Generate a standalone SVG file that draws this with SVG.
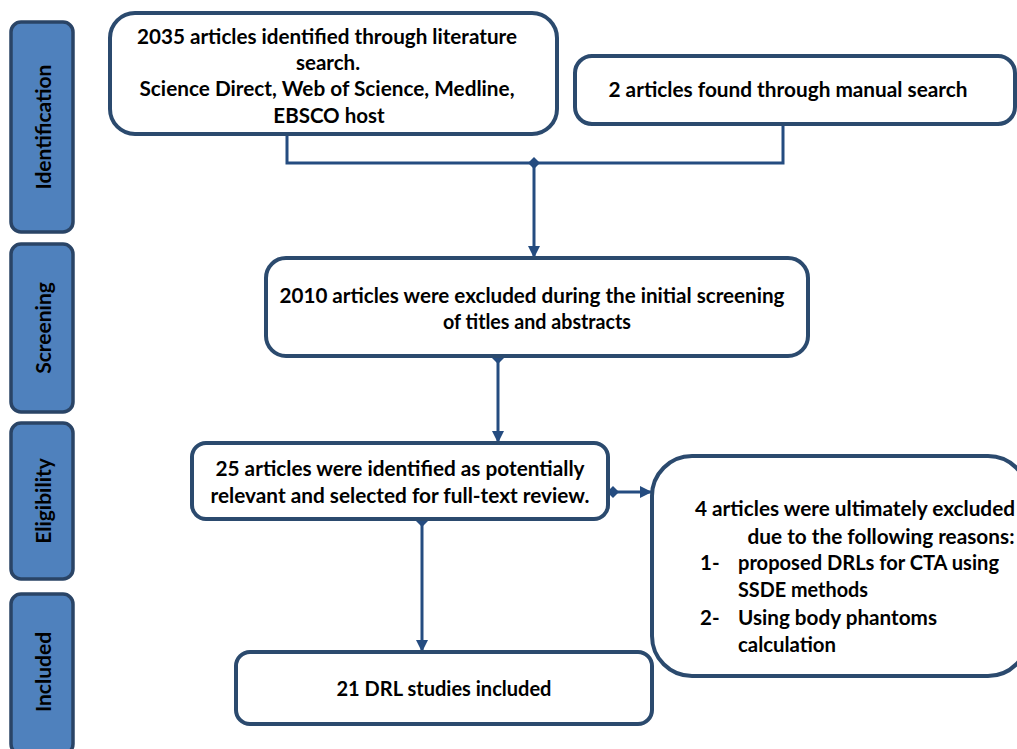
<svg xmlns="http://www.w3.org/2000/svg" width="1017" height="749" viewBox="0 0 1017 749">
<style>
.side{fill:#4F81BD;stroke:#2A4466;stroke-width:3.5}
.box{fill:#fff;stroke:#2B4A6E;stroke-width:4}
.t{font-family:Lato,"Liberation Sans",sans-serif;font-weight:bold;font-size:20.5px;fill:#000}
.c{text-anchor:middle}
.sl{font-family:Lato,"Liberation Sans",sans-serif;font-weight:bold;font-size:21px;fill:#000;text-anchor:middle}
.con{fill:none;stroke:#254C80;stroke-width:3}
</style>
<defs>
<marker id="arr" viewBox="0 0 12 12" refX="11" refY="6" markerWidth="12" markerHeight="12" markerUnits="userSpaceOnUse" orient="auto">
<path d="M0,0 L12,6 L0,12 z" fill="#254C80"/>
</marker>
<marker id="dia" viewBox="0 0 10 10" refX="5" refY="5" markerWidth="12" markerHeight="12" markerUnits="userSpaceOnUse" orient="auto">
<path d="M0,5 L5,0 L10,5 L5,10 z" fill="#254C80"/>
</marker>
</defs>
<g id="side-identification"><rect class="side" x="11" y="22" width="62" height="210" rx="10"/><text class="sl" transform="translate(51,127) rotate(-90)">Identification</text></g>
<g id="side-screening"><rect class="side" x="11" y="244" width="62" height="168" rx="10"/><text class="sl" transform="translate(51,328) rotate(-90)">Screening</text></g>
<g id="side-eligibility"><rect class="side" x="11" y="423" width="62" height="156" rx="10"/><text class="sl" transform="translate(51,501) rotate(-90)">Eligibility</text></g>
<g id="side-included"><rect class="side" x="11" y="594" width="62" height="160" rx="10"/><text class="sl" transform="translate(51,672) rotate(-90)">Included</text></g>

<g id="connectors">
<path class="con" d="M287,134 V163 H783 V126"/>
<path class="con" d="M534,163 V257" marker-start="url(#dia)" marker-end="url(#arr)"/>
<path class="con" d="M498,358 V442" marker-start="url(#dia)" marker-end="url(#arr)"/>
<path class="con" d="M613,492 H651" marker-start="url(#dia)" marker-end="url(#arr)"/>
<path class="con" d="M422,521 V651" marker-start="url(#dia)" marker-end="url(#arr)"/>
</g>

<g id="n1"><rect class="box" x="110" y="13" width="447" height="121" rx="25"/>
<text class="t c" x="327" y="44" textLength="380" lengthAdjust="spacingAndGlyphs">2035 articles identified through literature</text>
<text class="t c" x="328" y="70">search.</text>
<text class="t c" x="327" y="96" textLength="375" lengthAdjust="spacingAndGlyphs">Science Direct, Web of Science, Medline,</text>
<text class="t c" x="329" y="123">EBSCO host</text></g>
<g id="n2"><rect class="box" x="575" y="56" width="440" height="68" rx="17"/>
<text class="t c" x="788" y="97" textLength="359" lengthAdjust="spacingAndGlyphs">2 articles found through manual search</text></g>
<g id="n3"><rect class="box" x="266" y="258" width="542" height="98" rx="20"/>
<text class="t c" x="532" y="303" textLength="505" lengthAdjust="spacingAndGlyphs">2010 articles were excluded during the initial screening</text>
<text class="t c" x="537" y="329" textLength="188" lengthAdjust="spacingAndGlyphs">of titles and abstracts</text></g>
<g id="n4"><rect class="box" x="192" y="443" width="416" height="76" rx="14"/>
<text class="t c" x="400" y="476" textLength="369" lengthAdjust="spacingAndGlyphs">25 articles were identified as potentially</text>
<text class="t c" x="400" y="503" textLength="379" lengthAdjust="spacingAndGlyphs">relevant and selected for full-text review.</text></g>
<g id="n5"><rect class="box" x="652" y="456" width="376" height="220" rx="40"/>
<text class="t c" x="855" y="516" textLength="320" lengthAdjust="spacingAndGlyphs">4 articles were ultimately excluded</text>
<text class="t c" x="881" y="544" textLength="267" lengthAdjust="spacingAndGlyphs">due to the following reasons:</text>
<text class="t" x="700" y="570">1-</text><text class="t" x="738" y="570" textLength="261" lengthAdjust="spacingAndGlyphs">proposed DRLs for CTA using</text>
<text class="t" x="738" y="597" textLength="130" lengthAdjust="spacingAndGlyphs">SSDE methods</text>
<text class="t" x="700" y="625">2-</text><text class="t" x="738" y="625" textLength="199" lengthAdjust="spacingAndGlyphs">Using body phantoms</text>
<text class="t" x="738" y="652" textLength="98" lengthAdjust="spacingAndGlyphs">calculation</text></g>
<g id="n6"><rect class="box" x="236" y="652" width="416" height="72" rx="14"/>
<text class="t c" x="444" y="696" textLength="215" lengthAdjust="spacingAndGlyphs">21 DRL studies included</text></g>
</svg>
